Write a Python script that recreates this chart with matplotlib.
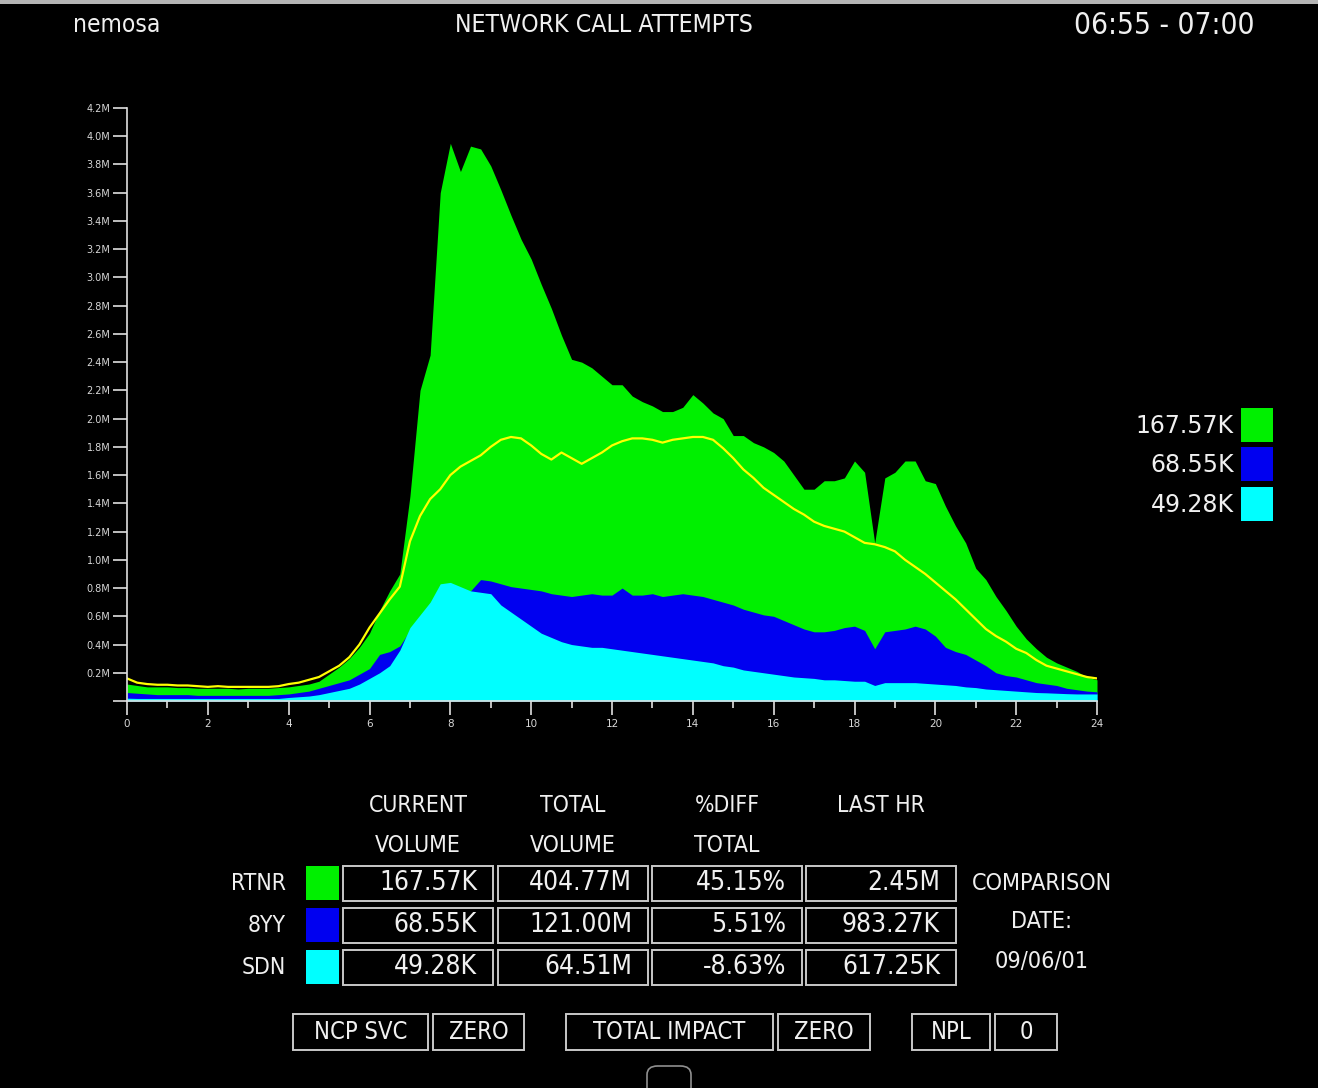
import matplotlib
matplotlib.use('Agg')
import matplotlib.pyplot as plt
from matplotlib import font_manager
from matplotlib.patches import Rectangle, FancyBboxPatch
import numpy as np

W, H = 1318, 1088

# 15-minute samples over the day (hours)
hours = np.arange(0, 24.01, 0.25)

# RTNR (green), values in millions
rtnr = [0.12, 0.11, 0.10, 0.10, 0.10, 0.095, 0.095, 0.09, 0.09, 0.09, 0.09, 0.085,
        0.09, 0.09, 0.09, 0.095, 0.10, 0.11, 0.12, 0.14, 0.19, 0.24, 0.30, 0.38,
        0.48, 0.64, 0.78, 0.90, 1.45, 2.20, 2.45, 3.60, 3.95, 3.75, 3.93, 3.91,
        3.79, 3.62, 3.44, 3.27, 3.13, 2.95, 2.78, 2.59, 2.42, 2.40, 2.36, 2.30,
        2.24, 2.24, 2.16, 2.12, 2.09, 2.05, 2.05, 2.08, 2.17, 2.11, 2.04, 2.00,
        1.88, 1.88, 1.83, 1.80, 1.76, 1.70, 1.60, 1.50, 1.50, 1.56, 1.56, 1.58,
        1.70, 1.62, 1.12, 1.58, 1.62, 1.70, 1.70, 1.56, 1.54, 1.38, 1.24, 1.12,
        0.94, 0.86, 0.74, 0.64, 0.53, 0.44, 0.37, 0.31, 0.27, 0.24, 0.21, 0.17, 0.15]

# 8YY (blue)
yy8 = [0.06, 0.055, 0.05, 0.045, 0.045, 0.045, 0.045, 0.04, 0.04, 0.04, 0.04, 0.04,
       0.04, 0.04, 0.04, 0.045, 0.05, 0.06, 0.07, 0.09, 0.11, 0.13, 0.15, 0.19,
       0.23, 0.33, 0.35, 0.39, 0.50, 0.56, 0.64, 0.70, 0.72, 0.76, 0.78, 0.86,
       0.85, 0.83, 0.81, 0.80, 0.79, 0.78, 0.76, 0.75, 0.74, 0.75, 0.76, 0.75,
       0.75, 0.80, 0.75, 0.75, 0.76, 0.74, 0.75, 0.76, 0.75, 0.74, 0.72, 0.70,
       0.68, 0.65, 0.63, 0.61, 0.60, 0.57, 0.54, 0.51, 0.49, 0.49, 0.50, 0.52,
       0.53, 0.50, 0.37, 0.49, 0.50, 0.51, 0.53, 0.51, 0.46, 0.38, 0.35, 0.33,
       0.29, 0.25, 0.20, 0.18, 0.17, 0.15, 0.13, 0.12, 0.11, 0.09, 0.08, 0.07, 0.065]

# SDN (cyan)
sdn = [0.02, 0.018, 0.018, 0.018, 0.018, 0.018, 0.018, 0.018, 0.018, 0.018, 0.018, 0.018,
       0.018, 0.018, 0.018, 0.018, 0.025, 0.03, 0.035, 0.045, 0.06, 0.075, 0.09, 0.12,
       0.16, 0.20, 0.25, 0.36, 0.52, 0.61, 0.70, 0.83, 0.84, 0.81, 0.78, 0.77,
       0.76, 0.68, 0.63, 0.58, 0.53, 0.48, 0.45, 0.42, 0.40, 0.39, 0.38, 0.38,
       0.37, 0.36, 0.35, 0.34, 0.33, 0.32, 0.31, 0.30, 0.29, 0.28, 0.27, 0.25,
       0.24, 0.22, 0.21, 0.20, 0.19, 0.18, 0.17, 0.165, 0.16, 0.15, 0.15, 0.145,
       0.14, 0.14, 0.11, 0.13, 0.13, 0.13, 0.13, 0.125, 0.12, 0.115, 0.11, 0.10,
       0.095, 0.085, 0.08, 0.075, 0.07, 0.065, 0.06, 0.058, 0.055, 0.052, 0.05, 0.05, 0.05]

# comparison-date line (yellow)
comparison = [0.16, 0.13, 0.12, 0.115, 0.115, 0.11, 0.11, 0.105, 0.10, 0.105, 0.10, 0.10,
              0.10, 0.10, 0.10, 0.105, 0.12, 0.13, 0.15, 0.17, 0.21, 0.25, 0.31, 0.40,
              0.52, 0.62, 0.72, 0.81, 1.13, 1.31, 1.43, 1.50, 1.60, 1.66, 1.70, 1.74,
              1.80, 1.85, 1.87, 1.86, 1.81, 1.75, 1.71, 1.76, 1.72, 1.68, 1.72, 1.76,
              1.81, 1.84, 1.86, 1.86, 1.85, 1.83, 1.85, 1.86, 1.87, 1.87, 1.85, 1.79,
              1.72, 1.64, 1.58, 1.51, 1.46, 1.41, 1.36, 1.32, 1.27, 1.24, 1.22, 1.20,
              1.16, 1.12, 1.11, 1.09, 1.06, 1.00, 0.95, 0.90, 0.84, 0.78, 0.72, 0.65,
              0.58, 0.51, 0.46, 0.42, 0.37, 0.34, 0.29, 0.25, 0.23, 0.21, 0.19, 0.17, 0.16]

series_names = ['RTNR', '8YY', 'SDN']
series_colors = ['#00f000', '#0000f0', '#00ffff']
current_volume = ['167.57K', '68.55K', '49.28K']
total_volume = ['404.77M', '121.00M', '64.51M']
pct_diff = ['45.15%', '5.51%', '-8.63%']
last_hr = ['2.45M', '983.27K', '617.25K']
col_headers = [('CURRENT', 'VOLUME'), ('TOTAL', 'VOLUME'), ('%DIFF', 'TOTAL'), ('LAST HR', '')]
comparison_date = '09/06/01'

TXT = '#f0f0f0'
EDGE = '#c8c8c8'

# the panel font is narrow and tall; use a narrow face when one is installed
names = {f.name for f in font_manager.fontManager.ttflist}
if 'Liberation Sans Narrow' in names:
    PANEL = dict(family='Liberation Sans Narrow')
    SCALE = 1.22
elif any(f.name == 'DejaVu Sans' and str(f.stretch) in ('condensed', '75', 'semi-condensed', '87')
         for f in font_manager.fontManager.ttflist):
    PANEL = dict(family='DejaVu Sans', fontstretch='condensed')
    SCALE = 1.1
else:
    PANEL = dict(family='DejaVu Sans')
    SCALE = 1.0


def ptext(x, y, s, size, ha='center'):
    fig.text(*fp(x, y), s, color=TXT, fontsize=size * SCALE, ha=ha, va='center', **PANEL)


def fp(x, y):
    # pixel position (from top-left) -> figure fraction
    return x / W, 1 - y / H


def box(x0, y0, x1, y1, fc='none', ec=EDGE, lw=1.4):
    fig.add_artist(Rectangle(fp(x0, y1), (x1 - x0) / W, (y1 - y0) / H,
                             transform=fig.transFigure, facecolor=fc,
                             edgecolor=ec, lw=lw))


fig = plt.figure(figsize=(W / 100, H / 100), dpi=100, facecolor='black')

# top frame strip
box(0, 0, W, 4, fc='#b4b4b4', ec='none')

ax = fig.add_axes([127 / W, 1 - 701 / H, (1097 - 127) / W, (701 - 108) / H])
ax.set_facecolor('black')
ax.fill_between(hours, rtnr, color=series_colors[0], lw=0)
ax.fill_between(hours, yy8, color=series_colors[1], lw=0)
ax.fill_between(hours, sdn, color=series_colors[2], lw=0)
ax.plot(hours, comparison, color='#ffff00', lw=1.6)

ax.set_xlim(0, 24)
ax.set_ylim(0, 4.2)
yt = np.arange(0, 4.21, 0.2)
ax.set_yticks(yt)
ax.set_yticklabels([''] + [f'{v:.1f}M' for v in yt[1:]])
ax.set_xticks(range(0, 25, 2))
ax.set_xticks(range(1, 24, 2), minor=True)
for s in ['top', 'right']:
    ax.spines[s].set_visible(False)
for s in ['left', 'bottom']:
    ax.spines[s].set_color('#e0e0e0')
    ax.spines[s].set_linewidth(1.2)
ax.tick_params(axis='y', colors='#e0e0e0', labelcolor='#d8d8d8', length=10,
               width=1.2, labelsize=7, pad=2)
ax.tick_params(axis='x', which='major', colors='#e0e0e0', labelcolor='#d8d8d8',
               length=10, width=1.2, labelsize=7.5, pad=3)
ax.tick_params(axis='x', which='minor', colors='#e0e0e0', length=5, width=1.2)

# header
ptext(73, 25, 'nemosa', 16, ha='left')
ptext(604, 25, 'NETWORK CALL ATTEMPTS', 16.2)
ptext(1254, 25, '06:55 - 07:00', 19.5, ha='right')

# right-side legend
for i, (val, c) in enumerate(zip(current_volume, series_colors)):
    top = [408, 447, 487][i]
    box(1241, top, 1273, top + 34, fc=c, ec='none')
    fig.text(*fp(1234, top + 18), val, color=TXT, fontsize=17, ha='right', va='center')

# table
col_left = [343, 498, 652, 806]
col_w = 150
row_top = [866, 908, 950]
row_h = 35
for j, (h1, h2) in enumerate(col_headers):
    cx = col_left[j] + col_w / 2
    ptext(cx, 805, h1, 15)
    if h2:
        ptext(cx, 845, h2, 15)

columns = [current_volume, total_volume, pct_diff, last_hr]
for i, name in enumerate(series_names):
    top = row_top[i]
    cy = top + row_h / 2
    ptext(286, cy, name, 15, ha='right')
    box(306, top, 339, top + 34, fc=series_colors[i], ec='none')
    for j, col in enumerate(columns):
        x0 = col_left[j]
        box(x0, top, x0 + col_w, top + row_h)
        ptext(x0 + col_w - 16, cy, col[i], 17.2, ha='right')

ptext(1042, 883, 'COMPARISON', 15.2)
ptext(1042, 922, 'DATE:', 15.2)
ptext(1042, 962, comparison_date, 15.2)

# bottom status buttons
buttons = [('NCP SVC', 293, 428), ('ZERO', 433, 524), ('TOTAL IMPACT', 566, 773),
           ('ZERO', 778, 870), ('NPL', 912, 990), ('0', 995, 1057)]
for label, x0, x1 in buttons:
    box(x0, 1014, x1, 1050)
    ptext((x0 + x1) / 2, 1032, label, 15.5)

# small tab at the bottom edge
fig.add_artist(FancyBboxPatch(fp(647, 1100), 44 / W, 34 / H,
                              boxstyle='round,pad=0,rounding_size=0.008',
                              transform=fig.transFigure, facecolor='none',
                              edgecolor='#909090', lw=1.2))

fig.savefig('out.png', dpi=100, facecolor='black')
